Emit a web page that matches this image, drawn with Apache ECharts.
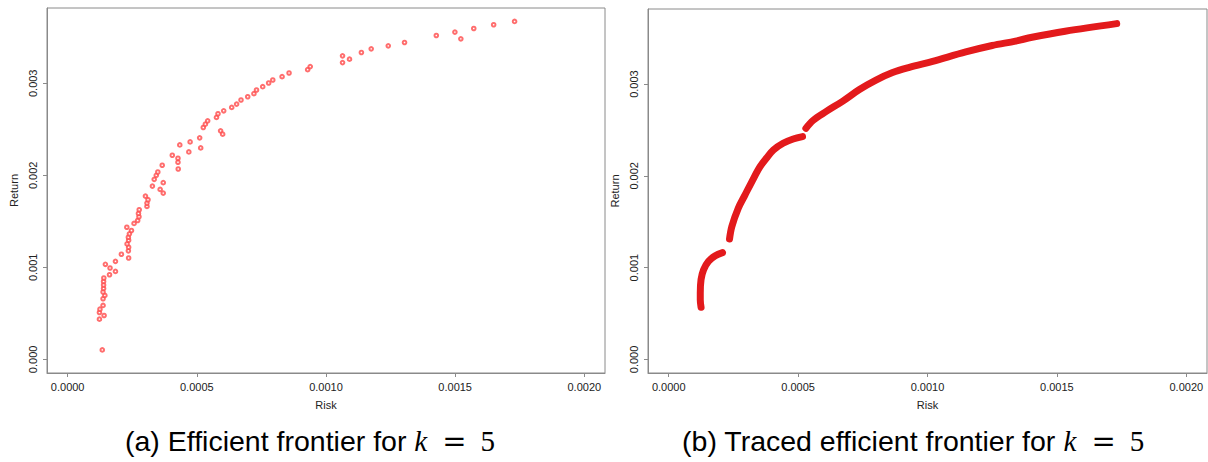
<!DOCTYPE html>
<html>
<head>
<meta charset="utf-8">
<script src="https://cdn.jsdelivr.net/npm/echarts@6/dist/echarts.min.js"></script>
<style>
html,body{margin:0;padding:0;background:#fff;}
#chart{width:1208px;height:462px;}
</style>
</head>
<body>
<div id="chart"></div>
<script>
// ---- Data ----
const xTicks = [0, 0.0005, 0.0010, 0.0015, 0.0020];
const yTicks = [0, 0.001, 0.002, 0.003];

// (a) efficient frontier points
const riskA = [0.000134,0.000123,0.000141,0.000123,0.000125,0.000137,0.000137,0.000144,0.000137,0.000139,
  0.000139,0.000139,0.000140,0.000162,0.000185,0.000164,0.000146,0.000185,0.000208,0.000236,
  0.000235,0.000236,0.000230,0.000236,0.000235,0.000239,0.000247,0.000229,0.000257,0.000271,
  0.000276,0.000274,0.000277,0.000307,0.000307,0.000311,0.000301,0.000370,0.000358,0.000328,
  0.000370,0.000335,0.000343,0.000349,0.000366,0.000428,0.000427,0.000427,0.000405,0.000469,
  0.000434,0.000474,0.000515,0.000511,0.000525,0.000533,0.000542,0.000576,0.000582,0.000592,
  0.000600,0.000604,0.000635,0.000654,0.000671,0.000697,0.000721,0.000731,0.000755,0.000778,
  0.000794,0.000830,0.000857,0.000929,0.000939,0.001064,0.001064,0.001091,0.001137,0.001175,
  0.001241,0.001304,0.001427,0.001499,0.001522,0.001572,0.001649,0.001730];
const returnA = [0.000103,0.000437,0.000477,0.000509,0.000546,0.000586,0.000659,0.000695,0.000732,0.000771,
  0.000808,0.000847,0.000884,0.000920,0.000956,0.000993,0.001033,0.001065,0.001142,0.001102,
  0.001179,0.001218,0.001255,0.001294,0.001327,0.001364,0.001400,0.001436,0.001477,0.001509,
  0.001550,0.001586,0.001626,0.001662,0.001698,0.001735,0.001774,0.001807,0.001847,0.001883,
  0.001920,0.001956,0.002000,0.002036,0.002109,0.002069,0.002142,0.002185,0.002218,0.002254,
  0.002330,0.002363,0.002298,0.002407,0.002520,0.002556,0.002592,0.002629,0.002669,0.002483,
  0.002447,0.002701,0.002738,0.002774,0.002818,0.002854,0.002887,0.002927,0.002963,0.003003,
  0.003036,0.003072,0.003112,0.003148,0.003181,0.003298,0.003225,0.003262,0.003334,0.003374,
  0.003407,0.003443,0.003519,0.003556,0.003483,0.003595,0.003636,0.003672];

// (b) traced efficient frontier, three pieces
const riskB1 = [0.000125,0.000122,0.000122,0.000125,0.000135,0.000154,0.000180,0.000208];
const returnB1 = [0.000568,0.000650,0.000725,0.000870,0.000978,0.001069,0.001130,0.001163];
const riskB2 = [0.000235,0.000244,0.000269,0.000295,0.000320,0.000353,0.000380,0.000405,0.000442,0.000481,0.000517];
const returnB2 = [0.001312,0.001449,0.001649,0.001793,0.001930,0.002100,0.002200,0.002283,0.002355,0.002402,0.002428];
const riskB3 = [0.000530,0.000558,0.000609,0.000673,0.000737,0.000801,0.000865,0.000930,0.001020,0.001148,0.001250,0.001340,0.001404,0.001532,0.001731];
const returnB3 = [0.002518,0.002605,0.002702,0.002815,0.002940,0.003043,0.003125,0.003182,0.003248,0.003350,0.003420,0.003468,0.003510,0.003576,0.003659];

const captionA = '(a) Efficient frontier for ';
const captionB = '(b) Traced efficient frontier for ';

// ---- Chart ----
const zip = (a, b) => a.map((v, i) => [v, b[i]]);
const axisGray = '#8a8a8a';
const textCol = '#222';

function xAx(idx) {
  return {
    gridIndex: idx, type: 'value', min: -0.00008, max: 0.00208,
    name: 'Risk', nameLocation: 'middle', nameGap: 26,
    nameTextStyle: {fontFamily: 'Liberation Sans', fontSize: 11, color: textCol},
    axisLine: {show: true, onZero: false, lineStyle: {color: axisGray, width: 1}},
    axisTick: {show: true, length: 4, customValues: xTicks, lineStyle: {color: axisGray}},
    axisLabel: {customValues: xTicks, margin: 8, fontFamily: 'Liberation Sans', fontSize: 11, color: textCol,
      formatter: v => v.toFixed(4)},
    splitLine: {show: false}
  };
}
function yAx(idx) {
  return {
    gridIndex: idx, type: 'value', min: -0.000148, max: 0.003818,
    name: 'Return', nameLocation: 'middle', nameGap: 28, nameRotate: 90,
    nameTextStyle: {fontFamily: 'Liberation Sans', fontSize: 11, color: textCol},
    axisLine: {show: true, onZero: false, lineStyle: {color: axisGray, width: 1}},
    axisTick: {show: true, length: 4, customValues: yTicks, lineStyle: {color: axisGray}},
    axisLabel: {customValues: yTicks, rotate: 90, margin: 9, fontFamily: 'Liberation Sans', fontSize: 11, color: textCol,
      formatter: v => v.toFixed(3)},
    splitLine: {show: false}
  };
}

const lineColor = '#e31a1c';
function seg(xs, ys) {
  return {
    type: 'line', xAxisIndex: 1, yAxisIndex: 1, data: zip(xs, ys),
    showSymbol: false, smooth: 0.35, silent: true,
    lineStyle: {color: lineColor, width: 7, cap: 'round', join: 'round'}
  };
}

const rich = {
  t: {fontFamily: 'Liberation Sans', fontSize: 28.5, color: '#111'},
  k: {fontFamily: 'Liberation Serif', fontStyle: 'italic', fontSize: 29, color: '#111'},
  e: {fontFamily: 'DejaVu Serif', fontSize: 29, color: '#111', padding: [0, 14, 0, 15]},
  m: {fontFamily: 'Liberation Serif', fontSize: 29, color: '#111'}
};

const chart = echarts.init(document.getElementById('chart'), null, {renderer: 'svg'});
chart.setOption({
  animation: false,
  backgroundColor: '#fff',
  grid: [
    {left: 47, top: 8, width: 558, height: 365, show: true, borderColor: axisGray, borderWidth: 1, containLabel: false},
    {left: 648, top: 9, width: 559, height: 364, show: true, borderColor: axisGray, borderWidth: 1, containLabel: false}
  ],
  xAxis: [xAx(0), xAx(1)],
  yAxis: [yAx(0), yAx(1)],
  series: [
    {type: 'scatter', xAxisIndex: 0, yAxisIndex: 0, data: zip(riskA, returnA),
      symbol: 'emptyCircle', symbolSize: 3.6,
      itemStyle: {color: '#ff4a4a', borderColor: '#ff4a4a', borderWidth: 0.7}, silent: true},
    seg(riskB1, returnB1), seg(riskB2, returnB2), seg(riskB3, returnB3)
  ],
  graphic: [
    {type: 'text', x: 310, y: 441, style: {text: '{t|' + captionA + '}{k|k}{e|=}{m|5}', rich: rich, align: 'center', verticalAlign: 'middle'}},
    {type: 'text', x: 913, y: 441, style: {text: '{t|' + captionB + '}{k|k}{e|=}{m|5}', rich: rich, align: 'center', verticalAlign: 'middle'}}
  ]
});
</script>
</body>
</html>
